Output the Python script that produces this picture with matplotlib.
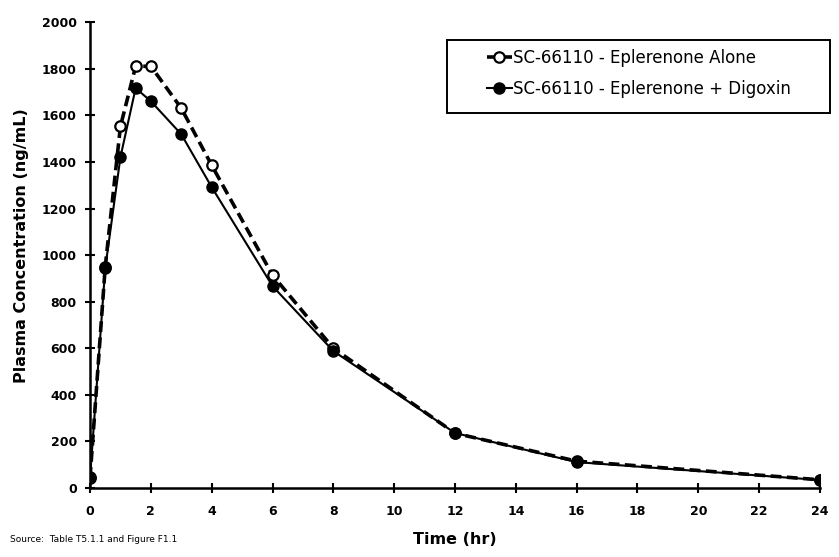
import matplotlib
matplotlib.use("Agg")
import matplotlib.pyplot as plt
from matplotlib.patches import Rectangle

plt.rcParams['font.family'] = ['DejaVu Sans']

time_hr = [0, 0.5, 1, 1.5, 2, 3, 4, 6, 8, 12, 16, 24]
alone = [43, 950, 1553, 1811, 1811, 1631, 1386, 914, 600, 235, 115, 35]
with_digoxin = [45, 944, 1421, 1717, 1661, 1519, 1292, 867, 588, 236, 111, 34]
label_alone = "SC-66110 - Eplerenone Alone"
label_dig = "SC-66110 - Eplerenone + Digoxin"
x_ticks = list(range(0, 25, 2))
y_ticks = list(range(0, 2001, 200))

fig = plt.figure(figsize=(8.39, 5.57), dpi=100)
ax = fig.add_axes([0.1073, 0.124, 0.870, 0.836])

ax.plot(time_hr, alone, linestyle=(0, (3, 1.5)), color='black', linewidth=2.6,
        marker='o', markersize=7.5, markerfacecolor='white', markeredgecolor='black',
        markeredgewidth=1.6, label=label_alone, zorder=3)
ax.plot(time_hr, with_digoxin, linestyle='-', color='black', linewidth=1.5,
        marker='o', markersize=8, markerfacecolor='black', markeredgecolor='black',
        label=label_dig, zorder=4)

ax.set_xlim(0, 24)
ax.set_ylim(0, 2000)
ax.set_xticks(x_ticks)
ax.set_yticks(y_ticks)
ax.tick_params(axis='x', labelsize=9, width=1.5, length=7, direction='inout', pad=9)
ax.tick_params(axis='y', labelsize=9, width=1.5, length=7, direction='inout', pad=6)
for lab in ax.get_xticklabels() + ax.get_yticklabels():
    lab.set_fontweight('bold')
ax.spines['top'].set_visible(False)
ax.spines['right'].set_visible(False)
ax.spines['left'].set_linewidth(1.8)
ax.spines['bottom'].set_linewidth(1.8)
for sp in ('left', 'bottom'):
    ax.spines[sp].set_clip_on(False)

ax.set_ylabel("Plasma Concentration (ng/mL)", fontsize=11.5, fontweight='bold', labelpad=10)
ax.yaxis.set_label_coords(-0.083, 0.52)
ax.set_xlabel("Time (hr)", fontsize=11.5, fontweight='bold', labelpad=10)

leg = ax.legend(loc='upper left', bbox_to_anchor=(0.580, 0.912),
                bbox_transform=fig.transFigure, fontsize=12,
                frameon=False, borderpad=0, labelspacing=0.75,
                handlelength=1.5, handletextpad=0.1, borderaxespad=0)

fig.patches.append(Rectangle((0.533, 0.797), 0.456, 0.131, transform=fig.transFigure,
                             fill=False, edgecolor='black', linewidth=1.4))

fig.text(0.012, 0.027, "Source:  Table T5.1.1 and Figure F1.1", fontsize=6.5)

fig.savefig("out.png", dpi=100)
